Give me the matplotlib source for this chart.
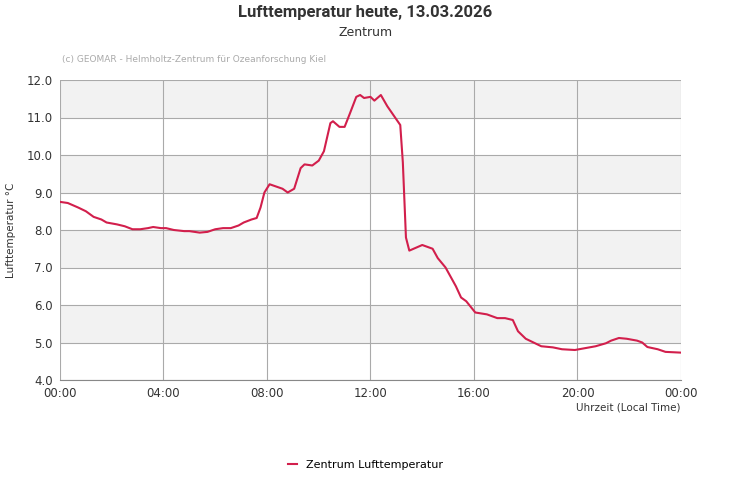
import matplotlib
matplotlib.use('Agg')
import matplotlib.pyplot as plt

# hours since midnight, air temperature in degC
hours = [0, 0.3, 0.7, 1.0, 1.3, 1.6, 1.8, 2.2, 2.5, 2.8, 3.1, 3.4, 3.6, 3.9, 4.1, 4.4,
         4.8, 5.0, 5.4, 5.7, 6.0, 6.3, 6.6, 6.9, 7.1, 7.4, 7.6, 7.75, 7.9, 8.1, 8.6, 8.8,
         9.05, 9.3, 9.45, 9.75, 10.0, 10.2, 10.45, 10.55, 10.8, 11.0, 11.2, 11.45, 11.6,
         11.75, 12.0, 12.15, 12.4, 12.65, 12.8, 13.0, 13.15, 13.25, 13.37, 13.5, 14.0,
         14.4, 14.6, 14.9, 15.3, 15.5, 15.7, 16.05, 16.5, 16.9, 17.2, 17.5, 17.7, 18.0,
         18.3, 18.6, 19.05, 19.4, 19.9, 20.3, 20.7, 21.1, 21.3, 21.6, 21.9, 22.3, 22.5,
         22.7, 23.1, 23.4, 24.0]
temps = [8.75, 8.72, 8.6, 8.5, 8.35, 8.28, 8.2, 8.15, 8.1, 8.02, 8.02, 8.05, 8.08, 8.05,
         8.05, 8.0, 7.97, 7.97, 7.93, 7.95, 8.02, 8.05, 8.05, 8.12, 8.2, 8.28, 8.32, 8.6,
         9.0, 9.22, 9.1, 9.0, 9.1, 9.65, 9.75, 9.72, 9.85, 10.1, 10.85, 10.9, 10.75, 10.75,
         11.1, 11.55, 11.6, 11.52, 11.55, 11.45, 11.6, 11.3, 11.15, 10.95, 10.8, 9.8, 7.8,
         7.45, 7.6, 7.5, 7.25, 7.0, 6.5, 6.2, 6.1, 5.8, 5.75, 5.65, 5.65, 5.6, 5.3, 5.1,
         5.0, 4.9, 4.87, 4.82, 4.8, 4.85, 4.9, 4.98, 5.05, 5.12, 5.1, 5.05, 5.0, 4.88,
         4.82, 4.75, 4.73]
xticks = [0, 4, 8, 12, 16, 20, 24]
xticklabels = ['00:00', '04:00', '08:00', '12:00', '16:00', '20:00', '00:00']
yticks = [4, 5, 6, 7, 8, 9, 10, 11, 12]

fig = plt.figure(figsize=(7.31, 5.0), dpi=100)
ax = fig.add_axes([60 / 731, 0.24, 621 / 731, 0.60])

for lo in [5, 7, 9, 11]:
    ax.axhspan(lo, lo + 1, color='#f2f2f2', zorder=0, lw=0)

ax.plot(hours, temps, color='#d21f4c', lw=1.5, zorder=3, label='Zentrum Lufttemperatur')

ax.set_xlim(0, 24)
ax.set_ylim(4, 12)
ax.set_xticks(xticks)
ax.set_xticklabels(xticklabels)
ax.set_yticks(yticks)
ax.set_yticklabels(['%.1f' % v for v in yticks])
ax.grid(True, color='#aaaaaa', lw=0.8, zorder=1)
ax.set_axisbelow(True)
ax.tick_params(labelsize=8.5, colors='#333333', length=0, pad=5)
for s in ax.spines.values():
    s.set_visible(False)
ax.spines['bottom'].set_visible(True)
ax.spines['bottom'].set_color('#888888')

ax.set_ylabel('Lufttemperatur °C', fontsize=7.5, color='#333333', labelpad=8)
ax.set_xlabel('Uhrzeit (Local Time)', fontsize=7.5, color='#333333', loc='right', labelpad=2)

fig.text(0.5, 0.975, 'Lufttemperatur heute, 13.03.2026', ha='center', va='center',
         fontsize=12, fontweight='bold', color='#333333', family='Roboto')
fig.text(0.5, 0.935, 'Zentrum', ha='center', va='center', fontsize=9, color='#333333')
fig.text(62 / 731, 0.88, '(c) GEOMAR - Helmholtz-Zentrum für Ozeanforschung Kiel',
         fontsize=6.5, color='#aaaaaa', va='center')

fig.legend(loc='center', bbox_to_anchor=(0.5, 0.07), frameon=False, fontsize=8,
           handlelength=0.8)

fig.savefig('out.png', dpi=100)
